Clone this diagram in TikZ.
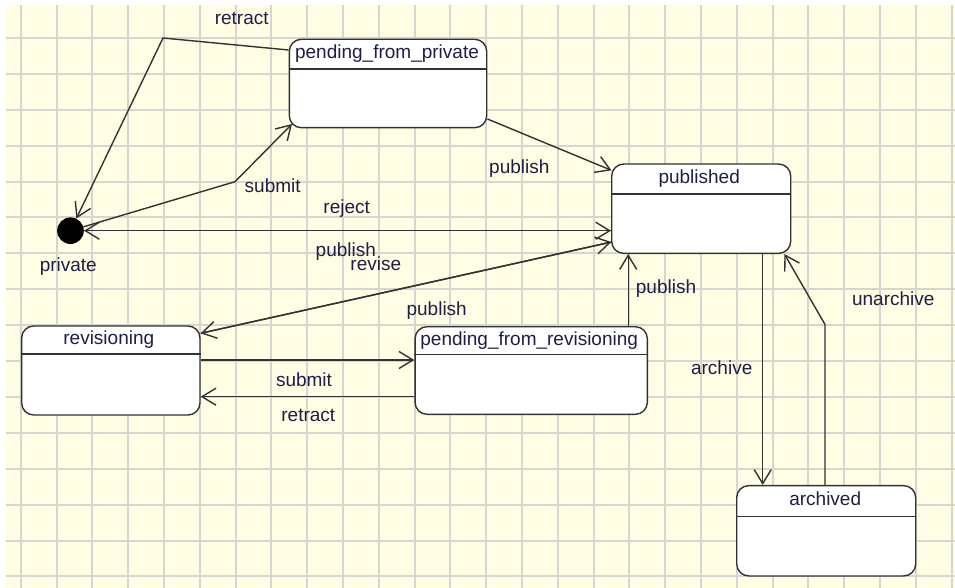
\documentclass[tikz,border=0pt]{standalone}
\usepackage{fontspec}
\setmainfont{Liberation Sans}
\usetikzlibrary{arrows.meta,calc}
\definecolor{bgyellow}{RGB}{255,253,228}
\definecolor{gridgray}{RGB}{214,214,208}
\definecolor{linegray}{RGB}{50,50,50}
\definecolor{txtnavy}{RGB}{30,30,70}
\begin{document}
\begin{tikzpicture}[x=1pt,y=-1pt,
  state/.style={draw=linegray, line width=1.4pt, fill=white, rounded corners=12pt, inner sep=0pt},
  divider/.style={draw=linegray, line width=1.8pt},
  title/.style={text=txtnavy, font=\fontsize{19}{22}\selectfont, inner sep=0pt, text height=14pt, text depth=4pt, anchor=center},
  lbl/.style={text=txtnavy, font=\fontsize{19}{22}\selectfont, inner sep=0pt, text height=14pt, text depth=4pt},
  tr/.style={draw=linegray, line width=1.4pt, -{Straight Barb[length=14pt,width=17pt]}},
  gridline/.style={draw=gridgray, line width=2pt}]
\useasboundingbox (0,0) rectangle (955,588);
\fill[white] (0,0) rectangle (955,588);
\fill[bgyellow] (6,5) rectangle (955,588);
\foreach \i in {0,...,26} {
  \pgfmathsetmacro{\gx}{round(20.7+35.8*\i)}
  \draw[gridline] (\gx,5) -- (\gx,588);
}
\foreach \j in {0,...,15} {
  \pgfmathsetmacro{\gy}{round(38+35.9*\j)}
  \draw[gridline] (6,\gy) -- (955,\gy);
}

% states
\node[state, minimum width=197.4pt, minimum height=88.4pt] (pfp) at (388,83.5) {};
\node[state, minimum width=179pt, minimum height=89.3pt] (pub) at (701.2,208.7) {};
\node[state, minimum width=178.3pt, minimum height=89pt] (rev) at (110.8,370.5) {};
\node[state, minimum width=232.3pt, minimum height=87.6pt] (pfr) at (531.2,370.5) {};
\node[state, minimum width=179pt, minimum height=90.3pt] (arc) at (826.2,530.8) {};
\node[circle, fill=black, minimum size=26.6pt, inner sep=0pt] (priv) at (70.5,230.7) {};

\draw[divider] ($(pfp.north west)+(0,30.7)$) -- ($(pfp.north east)+(0,30.7)$);
\draw[divider] ($(pub.north west)+(0,30.3)$) -- ($(pub.north east)+(0,30.3)$);
\draw[divider] ($(rev.north west)+(0,29)$) -- ($(rev.north east)+(0,29)$);
\draw[divider] ($(pfr.north west)+(0,28.5)$) -- ($(pfr.north east)+(0,28.5)$);
\draw[divider] ($(arc.north west)+(0,31.5)$) -- ($(arc.north east)+(0,31.5)$);

\node[title] (pfpT) at ($(pfp.north)+(-1,15.3)$) {pending\_from\_private};
\node[title] (pubT) at ($(pub.north)+(-2,15.2)$) {published};
\node[title] (revT) at ($(rev.north)+(-2,14.5)$) {revisioning};
\node[title] (pfrT) at ($(pfr.north)+(-2,14.2)$) {pending\_from\_revisioning};
\node[title] (arcT) at ($(arc.north)+(-1,15.8)$) {archived};

% transitions
\coordinate (kR) at (163,38);
\draw[tr] ($(pfp.north west)+(0,11.4)$) -- (kR) -- (priv);
\coordinate (kS) at (235,181.7);
\draw[tr] (priv) -- (kS) -- ($(pfp.south west)+(3.4,-4.4)$);
\draw[tr] ($(pfp.south east)+(0,-9.4)$) -- ($(pub.north west)+(0.5,7)$);
\draw[tr] (priv) -- (pub.west |- priv);
\draw[tr] (pub.west |- priv) -- (priv);
\draw[tr] ($(pub.south west)+(0.3,-12)$) -- ($(rev.north east)+(0,8)$);
\draw[tr] ($(rev.north east)+(0,8)$) -- ($(pub.south west)+(0.3,-12)$);
\draw[tr] ([yshift=10.5pt]rev.east) -- ([yshift=10.5pt]pfr.west);
\draw[tr] ([yshift=-26.2pt]pfr.west) -- ([yshift=-26.2pt]rev.east);
\draw[tr] ([xshift=97pt]pfr.north) -- ([xshift=-73pt]pub.south);
\draw[tr] ([xshift=61.5pt]pub.south) -- ([xshift=-63.5pt]arc.north);
\coordinate (kU) at (825,324.5);
\draw[tr] ([xshift=-1.2pt]arc.north) -- (kU) -- ([xshift=-7pt]pub.south east);

% labels
\node[lbl] (lRetract1) at (241.7,20) {retract};
\node[lbl] (lSubmit1) at (272.7,187.3) {submit};
\node[lbl] (lPub1) at (519.3,168.3) {publish};
\node[lbl] (lReject) at (346.7,208.3) {reject};
\node[lbl] (lPub2) at (345.8,251.7) {publish};
\node[lbl] (lRevise) at (375.8,265) {revise};
\node[lbl] (lPub3) at (436.7,310) {publish};
\node[lbl] (lSubmit2) at (304,381) {submit};
\node[lbl] (lRetract2) at (308.3,416.7) {retract};
\node[lbl] (lPub4) at (666,288.3) {publish};
\node[lbl] (lArchive) at (721.7,369) {archive};
\node[lbl] (lUnarchive) at (893.3,300) {unarchive};
\node[lbl] (lPrivate) at (68.3,266) {private};
\end{tikzpicture}
\end{document}
